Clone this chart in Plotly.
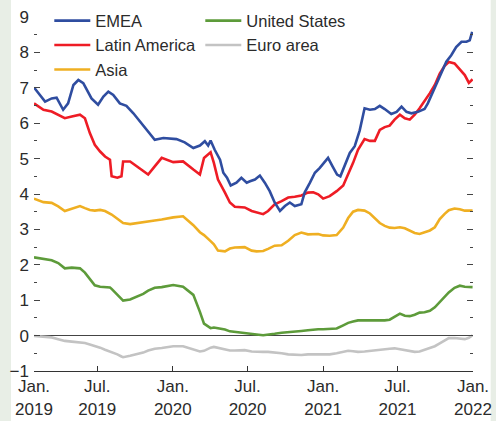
import plotly.graph_objects as go

# datas das séries (EMEA tem grade própria)
datas_emea = [
    "2019-01-28", "2019-02-24", "2019-03-12", "2019-03-24", "2019-04-09", "2019-04-21",
    "2019-05-04", "2019-05-16", "2019-05-28", "2019-06-17", "2019-07-03", "2019-07-16",
    "2019-07-28", "2019-08-09", "2019-08-25", "2019-09-10", "2019-09-27", "2019-10-13",
    "2019-10-29", "2019-11-18", "2019-12-09", "2020-01-10", "2020-01-30", "2020-02-20",
    "2020-03-07", "2020-03-19", "2020-03-27", "2020-04-02", "2020-04-12", "2020-04-25",
    "2020-05-03", "2020-05-12", "2020-05-21", "2020-06-04", "2020-06-16", "2020-06-29",
    "2020-07-07", "2020-07-19", "2020-07-31", "2020-08-12", "2020-08-24", "2020-09-05",
    "2020-09-18", "2020-09-30", "2020-10-12", "2020-10-24", "2020-11-09", "2020-11-17",
    "2020-11-30", "2020-12-12", "2020-12-24", "2021-01-13", "2021-01-24", "2021-02-04",
    "2021-02-12", "2021-02-23", "2021-03-07", "2021-03-19", "2021-03-31", "2021-04-12",
    "2021-04-25", "2021-05-07", "2021-05-19", "2021-05-31", "2021-06-16", "2021-06-29",
    "2021-07-11", "2021-07-23", "2021-08-04", "2021-08-20", "2021-09-05", "2021-09-13",
    "2021-09-22", "2021-10-04", "2021-10-16", "2021-10-28", "2021-11-09", "2021-11-21",
    "2021-12-04", "2021-12-16", "2021-12-24", "2021-12-30",
]
emea = [
    7.01, 6.61, 6.70, 6.72, 6.38, 6.56,
    7.08, 7.22, 7.13, 6.70, 6.52, 6.75,
    6.89, 6.80, 6.56, 6.49, 6.28, 6.05,
    5.80, 5.53, 5.58, 5.55, 5.46, 5.30,
    5.37, 5.49, 5.37, 5.51, 5.25, 4.97,
    4.60, 4.46, 4.24, 4.32, 4.46, 4.32,
    4.36, 4.41, 4.52, 4.32, 4.08, 3.76,
    3.52, 3.66, 3.76, 3.66, 3.71, 4.04,
    4.32, 4.60, 4.74, 5.02, 4.78, 4.55,
    4.50, 4.83, 5.16, 5.35, 5.79, 6.42,
    6.38, 6.40, 6.49, 6.40, 6.26, 6.32,
    6.47, 6.32, 6.28, 6.32, 6.40, 6.56,
    6.80, 7.13, 7.42, 7.74, 7.92, 8.15,
    8.30, 8.30, 8.34, 8.58,
]

datas = [
    "2019-01-28", "2019-02-20", "2019-03-12", "2019-03-28", "2019-04-13", "2019-04-30",
    "2019-05-20", "2019-06-01", "2019-06-13", "2019-06-25", "2019-07-08", "2019-07-20",
    "2019-08-01", "2019-08-05", "2019-08-19", "2019-08-29", "2019-09-02", "2019-09-19",
    "2019-10-05", "2019-10-21", "2019-11-02", "2019-11-18", "2019-12-05", "2020-01-02",
    "2020-01-26", "2020-02-20", "2020-03-07", "2020-03-17", "2020-04-02", "2020-04-10",
    "2020-04-20", "2020-05-07", "2020-05-19", "2020-05-31", "2020-06-24", "2020-07-11",
    "2020-07-23", "2020-08-08", "2020-08-20", "2020-09-05", "2020-09-22", "2020-10-08",
    "2020-10-24", "2020-11-09", "2020-11-25", "2020-12-08", "2020-12-20", "2021-01-01",
    "2021-01-17", "2021-02-03", "2021-02-19", "2021-03-03", "2021-03-15", "2021-03-27",
    "2021-04-12", "2021-04-25", "2021-05-07", "2021-05-19", "2021-05-31", "2021-06-12",
    "2021-06-24", "2021-07-07", "2021-07-19", "2021-07-31", "2021-08-12", "2021-08-24",
    "2021-09-05", "2021-09-18", "2021-09-30", "2021-10-12", "2021-10-24", "2021-11-03",
    "2021-11-17", "2021-11-30", "2021-12-12", "2021-12-22", "2021-12-31",
]
latin_america = [
    6.56, 6.38, 6.33, 6.24, 6.14, 6.19,
    6.24, 6.14, 5.72, 5.39, 5.20, 5.06,
    4.97, 4.50, 4.46, 4.50, 4.92, 4.92,
    4.78, 4.66, 4.55, 4.78, 5.02, 4.90,
    4.92, 4.69, 4.55, 5.02, 5.18, 4.88,
    4.41, 4.04, 3.76, 3.64, 3.62, 3.52,
    3.49, 3.43, 3.52, 3.71, 3.80, 3.90,
    3.92, 3.96, 4.04, 4.05, 3.99, 3.87,
    3.94, 4.08, 4.24, 4.55, 4.88, 5.25,
    5.55, 5.50, 5.50, 5.81, 5.89, 5.93,
    6.10, 6.24, 6.14, 6.10, 6.24, 6.42,
    6.61, 6.85, 7.08, 7.40, 7.62, 7.73,
    7.69, 7.52, 7.36, 7.14, 7.24,
]
asia = [
    3.87, 3.77, 3.75, 3.65, 3.52, 3.58,
    3.66, 3.60, 3.55, 3.53, 3.55, 3.52,
    3.46, 3.42, 3.30, 3.21, 3.18, 3.15,
    3.18, 3.21, 3.24, 3.25, 3.28, 3.34,
    3.37, 3.12, 2.92, 2.84, 2.67, 2.58,
    2.40, 2.38, 2.46, 2.49, 2.50, 2.40,
    2.38, 2.39, 2.45, 2.54, 2.55, 2.68,
    2.84, 2.91, 2.86, 2.86, 2.87, 2.83,
    2.82, 2.84, 3.05, 3.32, 3.50, 3.55,
    3.53, 3.45, 3.30, 3.18, 3.10, 3.05,
    3.04, 3.06, 3.03, 2.96, 2.90, 2.87,
    2.91, 2.97, 3.06, 3.29, 3.44, 3.54,
    3.59, 3.57, 3.53, 3.53, 3.53,
]
united_states = [
    2.21, 2.17, 2.13, 2.05, 1.90, 1.92,
    1.90, 1.78, 1.60, 1.42, 1.38, 1.37,
    1.36, 1.32, 1.16, 1.02, 0.99, 1.02,
    1.09, 1.18, 1.27, 1.35, 1.37, 1.43,
    1.38, 1.15, 0.67, 0.34, 0.21, 0.23,
    0.21, 0.17, 0.12, 0.10, 0.08, 0.05,
    0.03, 0.01, 0.02, 0.05, 0.08, 0.09,
    0.11, 0.13, 0.15, 0.17, 0.18, 0.18,
    0.18, 0.20, 0.29, 0.36, 0.40, 0.43,
    0.43, 0.43, 0.43, 0.42, 0.43, 0.45,
    0.54, 0.62, 0.56, 0.55, 0.59, 0.65,
    0.66, 0.70, 0.80, 0.95, 1.10, 1.22,
    1.35, 1.41, 1.38, 1.37, 1.37,
]
euro_area = [
    -0.01, -0.03, -0.05, -0.10, -0.15, -0.17,
    -0.19, -0.21, -0.25, -0.29, -0.34, -0.40,
    -0.45, -0.47, -0.53, -0.59, -0.61, -0.57,
    -0.52, -0.48, -0.42, -0.37, -0.35, -0.30,
    -0.30, -0.39, -0.45, -0.43, -0.34, -0.32,
    -0.35, -0.39, -0.42, -0.42, -0.41, -0.45,
    -0.46, -0.46, -0.46, -0.47, -0.50, -0.53,
    -0.54, -0.55, -0.53, -0.52, -0.53, -0.53,
    -0.53, -0.50, -0.46, -0.43, -0.44, -0.46,
    -0.45, -0.43, -0.41, -0.39, -0.38, -0.37,
    -0.36, -0.39, -0.42, -0.44, -0.46, -0.45,
    -0.40, -0.35, -0.30, -0.22, -0.13, -0.07,
    -0.07, -0.09, -0.10, -0.06, 0.01,
]

tick_datas = ["2019-01-28", "2019-07-01", "2020-01-01", "2020-07-01",
              "2021-01-01", "2021-07-01", "2022-01-01"]
tick_textos = ["Jan.<br>2019", "Jul.<br>2019", "Jan.<br>2020", "Jul.<br>2020",
               "Jan.<br>2021", "Jul.<br>2021", "Jan.<br>2022"]

fonte = "Liberation Sans, Arial, sans-serif"
texto = "#2b2b2b"

# (nome, x, y, cor, ordem na legenda)
series = [
    ("Euro area", datas, euro_area, "#c3c3c3", 4),
    ("United States", datas, united_states, "#5d9b3a", 2),
    ("Asia", datas, asia, "#efaf22", 5),
    ("Latin America", datas, latin_america, "#ee1c25", 3),
    ("EMEA", datas_emea, emea, "#2f4da0", 1),
]

fig = go.Figure()
for nome, x, y, cor, rank in series:
    fig.add_trace(go.Scatter(x=x, y=y, name=nome, mode="lines",
                             line=dict(color=cor, width=2.6), legendrank=rank))

# eixo da direita só com marcas
fig.add_trace(go.Scatter(x=datas, y=euro_area, yaxis="y2", showlegend=False,
                         hoverinfo="skip", line=dict(color="rgba(0,0,0,0)")))

fig.update_layout(
    width=496, height=421,
    margin=dict(l=34, r=23, t=17, b=50, autoexpand=False),
    paper_bgcolor="#e8eee6",
    plot_bgcolor="white",
    font=dict(family=fonte, size=16.5, color=texto),
    showlegend=True,
    legend=dict(orientation="h", xref="container", yref="container",
                x=0.0994, y=0.992, xanchor="left", yanchor="top",
                entrywidth=100, entrywidthmode="pixels", itemwidth=36,
                bgcolor="rgba(0,0,0,0)", font=dict(size=16.5, color=texto),
                tracegroupgap=0),
    xaxis=dict(type="date", range=["2019-01-28", "2022-01-01"],
               tickvals=tick_datas, ticktext=tick_textos,
               ticks="inside", ticklen=5, tickcolor="#333", tickwidth=1,
               showline=True, linecolor="#333", linewidth=1,
               showgrid=False, zeroline=False,
               tickfont=dict(size=17, color=texto)),
    yaxis=dict(range=[-1, 9], dtick=1, ticks="inside", ticklen=6,
               tickcolor="#444", showline=False, showgrid=False,
               zeroline=True, zerolinecolor="#444", zerolinewidth=1.2,
               ticklabelstandoff=4,
               minor=dict(dtick=0.5, ticks="inside", ticklen=3, tickcolor="#444"),
               tickfont=dict(size=17, color=texto)),
    yaxis2=dict(range=[-1, 9], dtick=1, overlaying="y", side="right",
                ticks="inside", ticklen=6, tickcolor="#444",
                showticklabels=False, showgrid=False, zeroline=False,
                minor=dict(dtick=0.5, ticks="inside", ticklen=3, tickcolor="#444")),
    shapes=[dict(type="rect", xref="paper", yref="paper",
                 x0=-0.0524, x1=1.0403, y0=-0.15, y1=1.06,
                 fillcolor="white", line=dict(width=0), layer="below")],
)

# a página padrão tem margem de 8px no body; zera para a figura ocupar a janela
fig.write_html("out.html", config={"displayModeBar": False},
               post_script="document.body.style.margin='0';document.body.style.overflow='hidden';")
